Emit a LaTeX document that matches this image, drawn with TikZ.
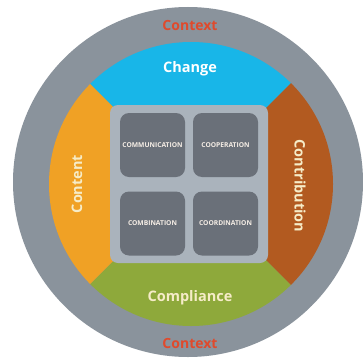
\documentclass[tikz,border=0pt]{standalone}
\usepackage{fontspec}
\setmainfont{Open Sans}
\begin{document}
\begin{tikzpicture}[x=1pt,y=-1pt,
  ringlabel/.style={font=\bfseries\fontsize{14.5}{16}\selectfont},
  ctxlabel/.style={font=\bfseries\fontsize{14}{16}\selectfont, text=ctxred},
  cell/.style={fill=cellgray, rounded corners=9pt, minimum width=65pt, minimum height=64pt, inner sep=0pt,
    font=\bfseries\fontsize{6.7}{8}\selectfont, text=celltext}
]
\definecolor{outergray}{HTML}{8A939C}
\definecolor{changeblue}{HTML}{18B6E8}
\definecolor{contentorange}{HTML}{F0A125}
\definecolor{contribbrown}{HTML}{B25A20}
\definecolor{complgreen}{HTML}{8EA93B}
\definecolor{squaregray}{HTML}{AAB3BC}
\definecolor{cellgray}{HTML}{6A7079}
\definecolor{ctxred}{HTML}{E04A2C}
\definecolor{celltext}{HTML}{F6EEE6}
\definecolor{cream}{HTML}{F6ECC8}

\useasboundingbox (0,0) rectangle (363,361);
\fill[white] (0,0) rectangle (363,361);

% outer context ring
\fill[outergray] (188,182) circle (175);

% coloured sectors of the inner disc
\coordinate (c) at (190,184);
\begin{scope}
  \clip (191,184) circle (142);
  \fill[changeblue]    (c) -- ++(-300,-300) -- ++(600,0) -- cycle;
  \fill[complgreen]    (c) -- ++(-300,300) -- ++(600,0) -- cycle;
  \fill[contentorange] (c) -- ++(-300,-300) -- ++(0,600) -- cycle;
  \fill[contribbrown]  (c) -- ++(300,-300) -- ++(0,600) -- cycle;
\end{scope}

% central square with the four cells
\fill[squaregray, rounded corners=8pt] (110,105) rectangle (268,263);
\node[cell] (comm) at (152.5,145) {COMMUNICATION};
\node[cell] (coop) at (225.5,145) {COOPERATION};
\node[cell] (comb) at (152.5,223.5) {COMBINATION};
\node[cell] (coor) at (225.5,223.5) {COORDINATION};

% ring labels
\node[ringlabel, text=white] (change) at (190,69) {Change};
\node[ringlabel, text=cream] (compl) at (190,298) {Compliance};
\node[ringlabel, text=cream, rotate=90] (content) at (77,184) {Content};
\node[ringlabel, text=cream, rotate=-90] (contrib) at (300,186) {Contribution};

% context labels
\node[ctxlabel] (ctxtop) at (190,25) {Context};
\node[ctxlabel] (ctxbot) at (190,343) {Context};
\end{tikzpicture}
\end{document}
